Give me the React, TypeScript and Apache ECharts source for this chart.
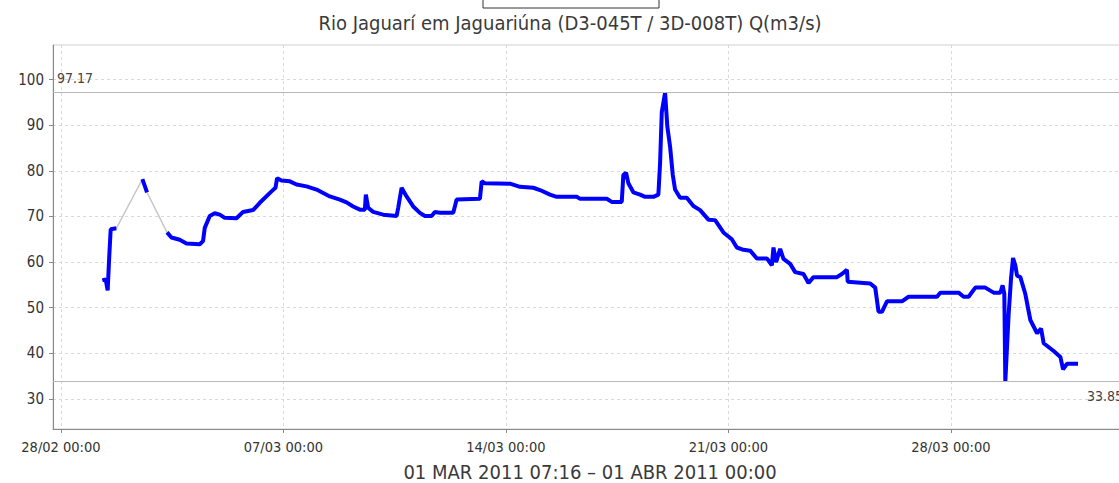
import React, { useEffect, useRef } from "react";
import * as echarts from "echarts";

const TITLE = "Rio Jaguarí em Jaguariúna (D3-045T / 3D-008T) Q(m3/s)";
const PERIOD = "01 MAR 2011 07:16 – 01 ABR 2011 00:00";

const times: string[] = [
  "2011-03-01 07:16", "2011-03-01 09:46", "2011-03-01 11:17", "2011-03-01 12:26", "2011-03-01 13:34",
  "2011-03-01 17:51", "2011-03-02 13:31", "2011-03-02 17:00", "2011-03-03 08:07", "2011-03-03 11:26",
  "2011-03-03 17:41", "2011-03-03 22:45", "2011-03-04 08:48", "2011-03-04 11:18", "2011-03-04 12:36",
  "2011-03-04 16:22", "2011-03-04 20:09", "2011-03-04 23:55", "2011-03-05 03:42", "2011-03-05 12:33",
  "2011-03-05 17:31", "2011-03-06 01:05", "2011-03-06 06:09", "2011-03-06 15:00", "2011-03-06 18:01",
  "2011-03-06 19:13", "2011-03-06 22:33", "2011-03-07 04:50", "2011-03-07 09:53", "2011-03-07 17:27",
  "2011-03-08 01:00", "2011-03-08 11:02", "2011-03-08 18:36", "2011-03-08 23:40", "2011-03-09 04:39",
  "2011-03-09 09:43", "2011-03-09 13:29", "2011-03-09 14:15", "2011-03-09 15:59", "2011-03-09 19:46",
  "2011-03-10 03:20", "2011-03-10 13:27", "2011-03-10 14:40", "2011-03-10 17:14", "2011-03-10 21:00",
  "2011-03-11 02:00", "2011-03-11 07:03", "2011-03-11 10:50", "2011-03-11 15:53", "2011-03-11 18:23",
  "2011-03-11 22:10", "2011-03-12 08:14", "2011-03-12 10:48", "2011-03-13 04:24", "2011-03-13 05:41",
  "2011-03-13 08:11", "2011-03-14 03:04", "2011-03-14 10:38", "2011-03-14 20:40", "2011-03-15 01:44",
  "2011-03-15 09:17", "2011-03-15 14:21", "2011-03-16 05:28", "2011-03-16 07:58", "2011-03-17 04:09",
  "2011-03-17 07:55", "2011-03-17 15:29", "2011-03-17 16:41", "2011-03-17 18:43", "2011-03-17 20:28",
  "2011-03-18 00:14", "2011-03-18 05:18", "2011-03-18 09:05", "2011-03-18 15:22", "2011-03-18 19:08",
  "2011-03-18 20:25", "2011-03-18 21:42", "2011-03-19 00:12", "2011-03-19 01:56", "2011-03-19 03:59",
  "2011-03-19 06:01", "2011-03-19 07:45", "2011-03-19 11:32", "2011-03-19 16:35", "2011-03-19 21:35",
  "2011-03-20 02:38", "2011-03-20 08:54", "2011-03-20 13:59", "2011-03-20 20:15", "2011-03-21 02:36",
  "2011-03-21 06:23", "2011-03-21 11:22", "2011-03-21 16:26", "2011-03-21 21:30", "2011-03-22 05:04",
  "2011-03-22 08:50", "2011-03-22 10:02", "2011-03-22 12:04", "2011-03-22 15:05", "2011-03-22 17:35",
  "2011-03-22 22:39", "2011-03-23 02:25", "2011-03-23 08:42", "2011-03-23 12:29", "2011-03-23 16:16",
  "2011-03-24 09:57", "2011-03-24 13:43", "2011-03-24 17:30", "2011-03-24 18:06", "2011-03-25 11:06",
  "2011-03-25 14:53", "2011-03-25 17:23", "2011-03-25 19:57", "2011-03-25 23:44", "2011-03-26 11:04",
  "2011-03-26 16:03", "2011-03-27 13:31", "2011-03-27 16:01", "2011-03-28 05:50", "2011-03-28 09:37",
  "2011-03-28 13:24", "2011-03-28 18:27", "2011-03-29 02:01", "2011-03-29 08:17", "2011-03-29 13:21",
  "2011-03-29 15:04", "2011-03-29 16:22", "2011-03-29 17:07", "2011-03-29 19:36", "2011-03-29 21:26",
  "2011-03-29 22:57", "2011-03-30 00:40", "2011-03-30 01:58", "2011-03-30 04:28", "2011-03-30 08:14",
  "2011-03-30 12:01", "2011-03-30 17:05", "2011-03-30 20:07", "2011-03-30 22:05", "2011-03-31 05:37",
  "2011-03-31 10:41", "2011-03-31 12:43", "2011-03-31 15:45", "2011-04-01 00:00",
];

const flows: number[] = [
  56.0, 56.2, 53.8, 61.0, 67.2,
  67.4, 78.2, 75.3, 66.5, 65.4,
  64.9, 64.1, 63.9, 64.6, 67.5,
  70.1, 70.7, 70.4, 69.7, 69.6,
  71.0, 71.4, 73.0, 75.5, 76.3,
  78.4, 77.9, 77.7, 77.0, 76.6,
  75.9, 74.4, 73.7, 73.1, 72.2,
  71.5, 71.5, 74.8, 71.9, 71.0,
  70.4, 70.1, 71.9, 76.3, 74.4,
  72.2, 70.8, 70.1, 70.1, 71.0,
  70.8, 70.8, 73.7, 73.9, 77.7,
  77.3, 77.2, 76.5, 76.3, 75.8,
  74.8, 74.3, 74.3, 73.9, 73.9,
  73.2, 73.2, 79.1, 79.6, 77.3,
  75.3, 74.8, 74.3, 74.3, 74.8,
  81.7, 92.9, 97.17, 89.6, 85.3,
  79.1, 75.9, 74.1, 74.1, 72.3,
  71.4, 69.3, 69.2, 66.5, 65.0,
  63.2, 62.7, 62.5, 60.8, 60.8,
  59.3, 63.2, 60.0, 62.9, 60.7,
  59.6, 57.8, 57.4, 55.4, 56.7,
  56.7, 57.4, 58.3, 55.7, 55.3,
  54.4, 49.1, 49.1, 51.4, 51.4,
  52.4, 52.4, 53.3, 53.3, 52.4,
  52.4, 54.4, 54.4, 53.3, 53.3,
  54.9, 53.0, 33.85, 48.4, 56.4,
  60.9, 59.3, 57.0, 56.7, 53.0,
  47.3, 44.4, 45.4, 42.2, 40.5,
  39.2, 36.5, 37.7, 37.7,
];

// readings after which the record has a gap (drawn in grey)
const gapAfter: string[] = ["2011-03-01 17:51", "2011-03-02 17:00"];

const maxFlow = 97.17;
const minFlow = 33.85;

const xTickDates: string[] = [
  "2011-02-28 00:00", "2011-03-07 00:00", "2011-03-14 00:00", "2011-03-21 00:00", "2011-03-28 00:00",
];
const yTicks: number[] = [30, 40, 50, 60, 70, 80, 90, 100];

const xStart = "2011-02-27 18:00";
const xEnd = "2011-04-02 13:00";
const yMin = 23.4;
const yMax = 107.6;

function ts(s: string): number {
  const [d, t] = s.split(" ");
  const [y, m, dd] = d.split("-").map(Number);
  const [hh, mm] = t.split(":").map(Number);
  return Date.UTC(y, m - 1, dd, hh, mm);
}

function pad(n: number) {
  return n < 10 ? "0" + n : "" + n;
}

function fmt(v: number): string {
  const d = new Date(v);
  return pad(d.getUTCDate()) + "/" + pad(d.getUTCMonth() + 1) + " " + pad(d.getUTCHours()) + ":" + pad(d.getUTCMinutes());
}

const FONT = "'DejaVu Sans Condensed', 'DejaVu Sans', sans-serif";

export default function App() {
  const ref = useRef<HTMLDivElement>(null);
  useEffect(() => {
    if (!ref.current) return;
    const chart = echarts.init(ref.current, undefined, { renderer: "svg" });
    const full = times.map((t, i) => [ts(t), flows[i]]);
    const gapSet = new Set(gapAfter);
    const blue: any[] = [];
    times.forEach((t, i) => {
      blue.push([ts(t), flows[i]]);
      if (gapSet.has(t) && i + 1 < times.length) {
        blue.push([(ts(t) + ts(times[i + 1])) / 2, "-"]);
      }
    });
    const xTicks = xTickDates.map(ts);
    chart.setOption({
      animation: false,
      backgroundColor: "#ffffff",
      title: {
        text: TITLE,
        left: 565,
        textAlign: "center",
        top: 8,
        textStyle: { fontFamily: FONT, fontSize: 20, fontWeight: "normal", color: "#3a3a3a" },
      },
      graphic: [
        {
          type: "rect",
          shape: { x: 483, y: -12, width: 176, height: 20 },
          style: { fill: "#ffffff", stroke: "#333333", lineWidth: 1 },
        },
      ],
      grid: {
        left: 53,
        top: 45,
        width: 1074,
        height: 384,
        show: true,
        borderColor: "#cfcfcf",
        borderWidth: 1,
        containLabel: false,
        outerBoundsMode: "none",
      },
      xAxis: {
        type: "value",
        min: ts(xStart),
        max: ts(xEnd),
        name: PERIOD,
        nameLocation: "middle",
        nameGap: 33,
        nameTextStyle: { fontFamily: FONT, fontSize: 20, color: "#3a3a3a" },
        axisLine: { show: true, onZero: false, lineStyle: { color: "#888888", width: 1 } },
        axisTick: { show: true, length: 4, lineStyle: { color: "#888888" }, customValues: xTicks },
        axisLabel: {
          customValues: xTicks,
          formatter: (v: number) => fmt(v),
          fontFamily: FONT,
          fontSize: 14.5,
          color: "#333333",
          margin: 10,
        },
        splitLine: { show: true, lineStyle: { color: "#d9d9d9", type: [3, 3], width: 1 } },
      },
      yAxis: {
        type: "value",
        min: yMin,
        max: yMax,
        splitNumber: 8,
        axisLine: { show: true, lineStyle: { color: "#888888", width: 1 } },
        axisTick: { show: true, length: 4, lineStyle: { color: "#888888" }, customValues: yTicks },
        axisLabel: {
          customValues: yTicks,
          fontFamily: FONT,
          fontSize: 15,
          color: "#333333",
          margin: 9,
        },
        splitLine: { show: true, lineStyle: { color: "#d9d9d9", type: [3, 3], width: 1 } },
      },
      series: [
        {
          type: "line",
          data: full,
          showSymbol: false,
          connectNulls: true,
          lineStyle: { color: "#c8c8c8", width: 1.5 },
          z: 2,
          markLine: {
            silent: true,
            symbol: "none",
            lineStyle: { color: "#b8b8b8", width: 1, type: "solid" },
            data: [
              {
                yAxis: maxFlow,
                label: {
                  position: "insideStartTop",
                  formatter: String(maxFlow),
                  fontFamily: FONT,
                  fontSize: 14,
                  color: "#444444",
                  distance: [4, 8],
                },
              },
              {
                yAxis: minFlow,
                label: {
                  position: "insideEndBottom",
                  formatter: String(minFlow),
                  fontFamily: FONT,
                  fontSize: 14,
                  color: "#444444",
                  distance: [4, 8],
                },
              },
            ],
          },
        },
        {
          type: "line",
          data: blue,
          showSymbol: false,
          connectNulls: false,
          lineStyle: { color: "#0000ff", width: 4 },
          z: 3,
        },
      ],
    });
    return () => chart.dispose();
  }, []);
  return (
    <div style={{ position: "fixed", left: 0, top: 0, width: 1119, height: 483, overflow: "hidden", background: "#fff" }}>
      <div ref={ref} style={{ width: 1130, height: 483 }} />
    </div>
  );
}
